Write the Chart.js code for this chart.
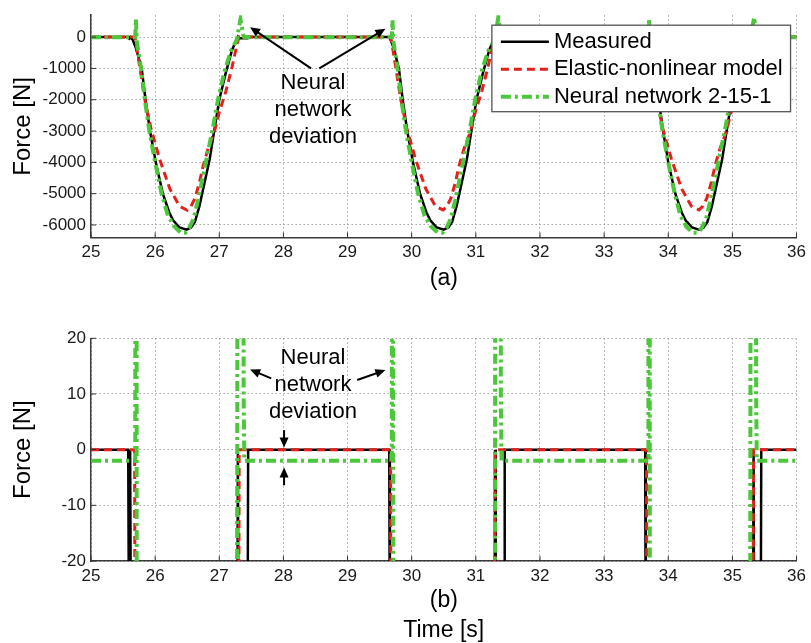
<!DOCTYPE html>
<html>
<head>
<meta charset="utf-8">
<script src="https://cdn.jsdelivr.net/npm/chart.js@4.4.1/dist/chart.umd.min.js"></script>
<style>
  html, body { margin: 0; padding: 0; background: #fff; }
  #wrap { position: relative; width: 811px; height: 643px; }
  #wrap canvas { position: absolute; left: 0; }
  #forceChart { top: 0; }
  #zoomChart { top: 320px; }
</style>
</head>
<body>
<div id="wrap">
  <canvas id="forceChart" width="811" height="320"></canvas>
  <canvas id="zoomChart" width="811" height="323"></canvas>
</div>
<script>
// tick labels
const timeTicks = [25, 26, 27, 28, 29, 30, 31, 32, 33, 34, 35, 36];
const forceTicksA = [-6000, -5000, -4000, -3000, -2000, -1000, 0];
const forceTicksB = [-20, -10, 0, 10, 20];

// Measured (black)
const measuredTime = [
    25.00, 25.58, 25.595, 25.61, 25.625, 25.64, 25.70, 25.79, 25.85, 25.92, 26.01, 26.12, 26.22, 26.28, 26.38, 26.49,
    26.56, 26.62, 26.69, 26.77, 26.85, 26.92, 27.00, 27.10, 27.20, 27.29, 27.30, 27.44, 27.45,
    29.65, 29.66, 29.72, 29.80, 29.86, 29.93, 30.02, 30.13, 30.23, 30.29, 30.39, 30.50,
    30.57, 30.63, 30.70, 30.78, 30.86, 30.93, 31.01, 31.11, 31.21, 31.30, 31.31, 31.44, 31.45,
    33.64, 33.65, 33.71, 33.79, 33.85, 33.92, 34.00, 34.11, 34.21, 34.27, 34.37, 34.48,
    34.55, 34.61, 34.68, 34.76, 34.84, 34.91, 34.99, 35.09, 35.22, 35.33, 35.34, 35.44, 35.45, 36.00
];
const measuredForce = [
    0, 0, -40, 0, -40, -30, -350, -1000, -2000, -3000, -4000, -5000, -5600, -5850, -6080, -6150,
    -6080, -5900, -5400, -4650, -3900, -3000, -2000, -1150, -400, 0, -40, -40, 0,
    0, -40, -350, -1000, -2000, -3000, -4000, -5000, -5600, -5850, -6080, -6150,
    -6080, -5900, -5400, -4650, -3900, -3000, -2000, -1150, -400, 0, -40, -40, 0,
    0, -40, -350, -1000, -2000, -3000, -4000, -5000, -5600, -5850, -6080, -6150,
    -6080, -5900, -5400, -4650, -3900, -3000, -2000, -1150, -400, 0, -40, -40, 0, 0
];

// Elastic-nonlinear model (red)
const modelTime = [
    25.00, 25.68, 25.69, 25.76, 25.84, 25.94, 26.07, 26.23, 26.38, 26.50,
    26.56, 26.62, 26.69, 26.75, 26.82, 26.92, 27.00, 27.10, 27.20, 27.28, 27.31,
    29.67, 29.68, 29.75, 29.83, 29.93, 30.06, 30.22, 30.37, 30.49,
    30.55, 30.61, 30.68, 30.74, 30.81, 30.91, 30.99, 31.09, 31.19, 31.27, 31.30,
    33.66, 33.67, 33.74, 33.82, 33.92, 34.05, 34.21, 34.36, 34.48,
    34.54, 34.60, 34.67, 34.73, 34.80, 34.90, 34.98, 35.08, 35.18, 35.28, 35.33, 36.00
];
const modelForce = [
    0, 0, -60, -950, -2000, -2960, -3900, -4850, -5400, -5530,
    -5400, -5150, -4650, -4100, -3600, -3050, -2400, -1750, -950, -200, 0,
    0, -60, -950, -2000, -2960, -3900, -4850, -5400, -5520,
    -5400, -5150, -4650, -4100, -3600, -3050, -2400, -1750, -950, -200, 0,
    0, -60, -950, -2000, -2960, -3900, -4850, -5400, -5520,
    -5400, -5150, -4650, -4100, -3600, -3050, -2400, -1750, -950, -200, 0, 0
];

// Neural network 2-15-1 (green)
const nnTime = [
    25.00, 25.69, 25.70, 25.715, 25.78, 25.84, 25.91, 26.00, 26.10, 26.20, 26.30, 26.40, 26.47,
    26.53, 26.60, 26.67, 26.75, 26.83, 26.90, 26.98, 27.08, 27.18, 27.27, 27.28, 27.33, 27.38, 27.39,
    29.69, 29.70, 29.715, 29.78, 29.84, 29.91, 30.00, 30.10, 30.20, 30.30, 30.41, 30.48,
    30.54, 30.61, 30.68, 30.76, 30.84, 30.91, 30.99, 31.09, 31.19, 31.29, 31.30, 31.35, 31.39, 31.40,
    33.69, 33.70, 33.715, 33.78, 33.84, 33.91, 34.00, 34.10, 34.19, 34.28, 34.38, 34.46,
    34.52, 34.59, 34.66, 34.74, 34.82, 34.89, 34.97, 35.07, 35.17, 35.27, 35.28, 35.34, 35.37, 35.38, 36.00
];
const nnForce = [
    -2, -2, 580, -150, -1000, -2000, -3000, -4000, -5000, -5700, -6050, -6250, -6250,
    -6100, -5800, -5200, -4400, -3600, -2900, -2000, -1100, -450, -100, 0, 570, 10, -2,
    -2, 540, -150, -1000, -2000, -3000, -4000, -5000, -5700, -6050, -6250, -6250,
    -6100, -5800, -5200, -4400, -3600, -2900, -2000, -1100, -450, -100, 0, 630, 10, -2,
    -2, 540, -150, -1000, -2000, -3000, -4000, -5000, -5700, -6050, -6250, -6250,
    -6100, -5800, -5200, -4400, -3600, -2900, -2000, -1100, -450, -100, 0, 630, 10, -2, -2
];

const FONT = '"Liberation Sans", Arial, sans-serif';
Chart.defaults.font.family = FONT;
Chart.defaults.color = '#1a1a1a';

// text + arrows, positioned in data units
const notesA = {
    x: 28.46, ys: [-1450, -2320, -3180], lines: ['Neural', 'network', 'deviation'],
    arrows: [[28.43, -1000, 27.48, 317], [28.56, -1000, 29.59, 267]]
};
const notesB = {
    x: 28.46, ys: [16.4, 11.6, 6.7], lines: ['Neural', 'network', 'deviation'],
    arrows: [[27.81, 12.8, 27.48, 14.4], [29.15, 12.5, 29.59, 14.3], [28.01, 3.5, 28.01, 0.4], [28.01, -6.4, 28.01, -3.2]]
};

function toPoints(times, forces) {
    return times.map((t, i) => ({ x: t, y: forces[i] }));
}

function seriesList() {
    return [
        { label: 'Measured', data: toPoints(measuredTime, measuredForce),
          borderColor: '#000000', borderWidth: 2.5, order: 2 },
        { label: 'Elastic-nonlinear model', data: toPoints(modelTime, modelForce),
          borderColor: '#e3201b', borderWidth: 3, borderDash: [8, 5], order: 1 },
        { label: 'Neural network 2-15-1', data: toPoints(nnTime, nnForce),
          borderColor: '#4cc63a', borderWidth: 4, borderDash: [10, 4, 3, 4], order: 0 }
    ];
}

function drawArrow(ctx, x1, y1, x2, y2) {
    const a = Math.atan2(y2 - y1, x2 - x1);
    const len = 10, half = 4.5;
    ctx.beginPath();
    ctx.moveTo(x1, y1);
    ctx.lineTo(x2 - Math.cos(a) * len * 0.8, y2 - Math.sin(a) * len * 0.8);
    ctx.stroke();
    ctx.beginPath();
    ctx.moveTo(x2, y2);
    ctx.lineTo(x2 - Math.cos(a) * len + Math.sin(a) * half, y2 - Math.sin(a) * len - Math.cos(a) * half);
    ctx.lineTo(x2 - Math.cos(a) * len - Math.sin(a) * half, y2 - Math.sin(a) * len + Math.cos(a) * half);
    ctx.closePath();
    ctx.fill();
}

function noteLayer(notes) {
    return {
        id: 'notes',
        afterDraw(chart) {
            const { ctx, scales: { x, y } } = chart;
            ctx.save();
            ctx.font = '22px ' + FONT;
            ctx.fillStyle = '#000';
            ctx.textAlign = 'center';
            ctx.textBaseline = 'middle';
            notes.lines.forEach((t, i) => ctx.fillText(t, x.getPixelForValue(notes.x), y.getPixelForValue(notes.ys[i])));
            ctx.strokeStyle = '#000';
            ctx.lineWidth = 2;
            notes.arrows.forEach(a => drawArrow(ctx,
                x.getPixelForValue(a[0]), y.getPixelForValue(a[1]),
                x.getPixelForValue(a[2]), y.getPixelForValue(a[3])));
            ctx.restore();
        }
    };
}

// short inward tick marks like the original axes
const innerTicks = {
    id: 'innerTicks',
    afterDatasetsDraw(chart) {
        const { ctx, chartArea, scales: { x, y } } = chart;
        ctx.save();
        ctx.strokeStyle = '#333';
        ctx.lineWidth = 1;
        ctx.beginPath();
        x.ticks.forEach(t => {
            const px = x.getPixelForValue(t.value);
            ctx.moveTo(px, chartArea.bottom); ctx.lineTo(px, chartArea.bottom - 5);
        });
        y.ticks.forEach(t => {
            const py = y.getPixelForValue(t.value);
            ctx.moveTo(chartArea.left, py); ctx.lineTo(chartArea.left + 5, py);
        });
        ctx.stroke();
        ctx.restore();
    }
};

const legendBox = {
    id: 'legendBox',
    afterDraw(chart) {
        const { ctx, chartArea } = chart;
        const sets = chart.data.datasets;
        ctx.save();
        ctx.font = '22px ' + FONT;
        const textW = Math.max(...sets.map(d => ctx.measureText(d.label).width));
        const rowH = 27.5, sample = 48;
        const w = 9 + sample + 5 + textW + 8;
        const h = sets.length * rowH + 4;
        const right = chartArea.right - 6, top = chartArea.top + 10;
        const left = right - w;
        ctx.fillStyle = '#fff';
        ctx.fillRect(left, top, w, h);
        ctx.strokeStyle = '#555';
        ctx.lineWidth = 1.3;
        ctx.strokeRect(left, top, w, h);
        sets.forEach((d, i) => {
            const yy = top + 16.5 + i * rowH;
            ctx.strokeStyle = d.borderColor;
            ctx.lineWidth = d.borderWidth;
            ctx.setLineDash(d.borderDash || []);
            ctx.beginPath();
            ctx.moveTo(left + 9, yy);
            ctx.lineTo(left + 9 + sample, yy);
            ctx.stroke();
            ctx.setLineDash([]);
            ctx.fillStyle = '#000';
            ctx.textAlign = 'left';
            ctx.textBaseline = 'middle';
            ctx.fillText(d.label, left + 9 + sample + 5, yy);
        });
        ctx.restore();
    }
};

function buildScales(yMin, yMax, yTicks, xTitle, xAxisHeight, titlePad, titleLineHeight) {
    const grid = { color: '#a8a8a8', lineWidth: 1, drawTicks: false };
    const border = { color: '#3a3a3a', width: 1.5, dash: [1.5, 2.5] };
    return {
        x: {
            type: 'linear', min: 25, max: 36,
            afterBuildTicks: s => { s.ticks = timeTicks.map(v => ({ value: v })); },
            afterFit: s => { s.height = xAxisHeight; },
            grid, border,
            ticks: { padding: 5, autoSkip: false, maxRotation: 0, font: { size: 17 }, color: '#1a1a1a' },
            title: { display: true, text: xTitle, color: '#000',
                     font: { size: 23, lineHeight: titleLineHeight }, padding: { top: 0, bottom: titlePad } }
        },
        y: {
            type: 'linear', min: yMin, max: yMax,
            afterBuildTicks: s => { s.ticks = yTicks.map(v => ({ value: v })); },
            afterFit: s => { s.width = 91; },
            grid, border,
            ticks: { padding: 5, font: { size: 17 }, color: '#1a1a1a', callback: v => String(v) },
            title: { display: true, text: 'Force [N]', color: '#000',
                     font: { size: 24, lineHeight: 1.2 }, padding: { top: 8.6, bottom: 0 } }
        }
    };
}

function buildForceChart(canvas) {
    new Chart(canvas, {
        type: 'line',
        data: { datasets: seriesList() },
        options: {
            responsive: false,
            animation: false,
            elements: { point: { radius: 0 }, line: { tension: 0 } },
            layout: { padding: { top: 13.5, right: 12, left: 0, bottom: 0 } },
            plugins: { legend: { display: false }, tooltip: { enabled: false } },
            scales: buildScales(-6400, 700, forceTicksA, '(a)', 82.5, 27.8, 1.2)
        },
        plugins: [innerTicks, noteLayer(notesA), legendBox]
    });
}

function buildZoomChart(canvas) {
    new Chart(canvas, {
        type: 'line',
        data: { datasets: seriesList() },
        options: {
            responsive: false,
            animation: false,
            elements: { point: { radius: 0 }, line: { tension: 0 } },
            layout: { padding: { top: 18.3, right: 12, left: 0, bottom: 0 } },
            plugins: { legend: { display: false }, tooltip: { enabled: false } },
            scales: buildScales(-20, 20, forceTicksB, ['(b)', 'Time [s]'], 82, -3, 1.3)
        },
        plugins: [innerTicks, noteLayer(notesB)]
    });
}

document.addEventListener('DOMContentLoaded', () => {
    buildForceChart(document.getElementById('forceChart'));
    buildZoomChart(document.getElementById('zoomChart'));
});
</script>
</body>
</html>
